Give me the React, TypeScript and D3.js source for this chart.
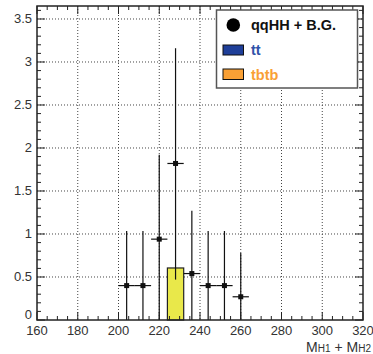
import React from "react";
import * as d3 from "d3";

const binCenters = [204, 212, 220, 228, 236, 244, 252, 260];
const binHalfWidth = 4;
const values = [0.4, 0.4, 0.94, 1.82, 0.54, 0.4, 0.4, 0.27];
const errHigh = [1.035, 1.035, 1.92, 3.16, 1.27, 1.035, 1.035, 0.78];
const errLow = [0, 0, 0, 0.47, 0, 0, 0, 0];

const histBinLow = [224];
const histBinHigh = [232];
const histValues = [0.605];

const xTicks = [160, 180, 200, 220, 240, 260, 280, 300, 320];
const yTicks = [0, 0.5, 1, 1.5, 2, 2.5, 3, 3.5];
const yTickLabels = ["0", "0.5", "1", "1.5", "2", "2.5", "3", "3.5"];

const legendLabels = ["qqHH + B.G.", "tt", "tbtb"];

export default function App() {
  const W = 373, H = 354;
  const left = 37, right = 363, top = 6, bottom = 320;
  const x = d3.scaleLinear().domain([160, 320]).range([left, right]);
  const y = d3.scaleLinear().domain([0, 3.651]).range([bottom, top]);
  const xMinor = d3.range(160, 320.01, 5);
  const yMinor = d3.range(0, 3.65, 0.1);
  const font = "'Liberation Sans', Arial, sans-serif";
  const lab = "#333";
  return (
    <svg width={W} height={H} style={{ position: "absolute", left: 0, top: 0, background: "#fff" }}>
      <rect x={0} y={0} width={W} height={H} fill="#fff" />
      {/* grid */}
      {xTicks.slice(1, -1).map((t) => (
        <line key={"gx" + t} x1={x(t)} x2={x(t)} y1={top} y2={bottom} stroke="#444" strokeWidth={1} strokeDasharray="1,2" />
      ))}
      {yTicks.slice(1).map((t) => (
        <line key={"gy" + t} x1={left} x2={right} y1={y(t)} y2={y(t)} stroke="#444" strokeWidth={1} strokeDasharray="1,2" />
      ))}
      {/* histogram */}
      {histValues.map((v, i) => (
        <rect key={"h" + i} x={x(histBinLow[i])} y={y(v)} width={x(histBinHigh[i]) - x(histBinLow[i])} height={bottom - y(v)} fill="#e9e84a" stroke="#222" strokeWidth={1.2} />
      ))}
      {/* data points */}
      {values.map((v, i) => {
        const cx = x(binCenters[i]);
        const cy = y(v);
        return (
          <g key={"p" + i}>
            <line x1={cx} x2={cx} y1={y(errHigh[i])} y2={y(errLow[i])} stroke="#111" strokeWidth={1.2} />
            <line x1={x(binCenters[i] - binHalfWidth)} x2={x(binCenters[i] + binHalfWidth)} y1={cy} y2={cy} stroke="#111" strokeWidth={1.2} />
            <rect x={cx - 2.5} y={cy - 2.5} width={5} height={5} fill="#111" />
          </g>
        );
      })}
      {/* ticks */}
      {xMinor.map((t) => {
        const major = t % 20 === 0;
        const len = major ? 8 : 4;
        return (
          <g key={"xt" + t}>
            <line x1={x(t)} x2={x(t)} y1={bottom} y2={bottom - len} stroke="#222" strokeWidth={1} />
            <line x1={x(t)} x2={x(t)} y1={top} y2={top + len} stroke="#222" strokeWidth={1} />
          </g>
        );
      })}
      {yMinor.map((t, i) => {
        const major = i % 5 === 0;
        const len = major ? 8 : 4;
        return (
          <g key={"yt" + i}>
            <line x1={left} x2={left + len} y1={y(t)} y2={y(t)} stroke="#222" strokeWidth={1} />
            <line x1={right} x2={right - len} y1={y(t)} y2={y(t)} stroke="#222" strokeWidth={1} />
          </g>
        );
      })}
      {/* frame */}
      <rect x={left} y={top} width={right - left} height={bottom - top} fill="none" stroke="#222" strokeWidth={1.5} />
      {/* tick labels */}
      {yTicks.map((t, i) => (
        <text key={"yl" + t} x={left - 5} y={y(t) + (i === 0 ? -1.5 : 4.5)} textAnchor="end" fontSize={13} fontFamily={font} fill={lab}>
          {yTickLabels[i]}
        </text>
      ))}
      {xTicks.map((t) => (
        <text key={"xl" + t} x={x(t)} y={335} textAnchor="middle" fontSize={13} fontFamily={font} fill={lab}>
          {t}
        </text>
      ))}
      {/* axis title */}
      <text x={371} y={351.5} textAnchor="end" fontFamily={font} fill={lab} fontSize={14}>
        M<tspan fontSize={10}>H1</tspan> + M<tspan fontSize={10}>H2</tspan>
      </text>
      {/* legend */}
      <rect x={216.5} y={10} width={141} height={78} fill="#fff" stroke="#555" strokeWidth={1.5} />
      <circle cx={233.3} cy={25} r={6.8} fill="#000" />
      <text x={251} y={30} fontSize={14.5} fontWeight="bold" fontFamily={font} fill="#111">{legendLabels[0]}</text>
      <rect x={223} y={45} width={20.5} height={10} fill="#1f3f99" stroke="#111" strokeWidth={1} />
      <text x={251} y={55} fontSize={14.5} fontWeight="bold" fontFamily={font} fill="#2f52a8">{legendLabels[1]}</text>
      <rect x={223} y={69} width={20.5} height={10.5} fill="#f9a035" stroke="#111" strokeWidth={1} />
      <text x={251} y={80} fontSize={14.5} fontWeight="bold" fontFamily={font} fill="#f9a035">{legendLabels[2]}</text>
    </svg>
  );
}
